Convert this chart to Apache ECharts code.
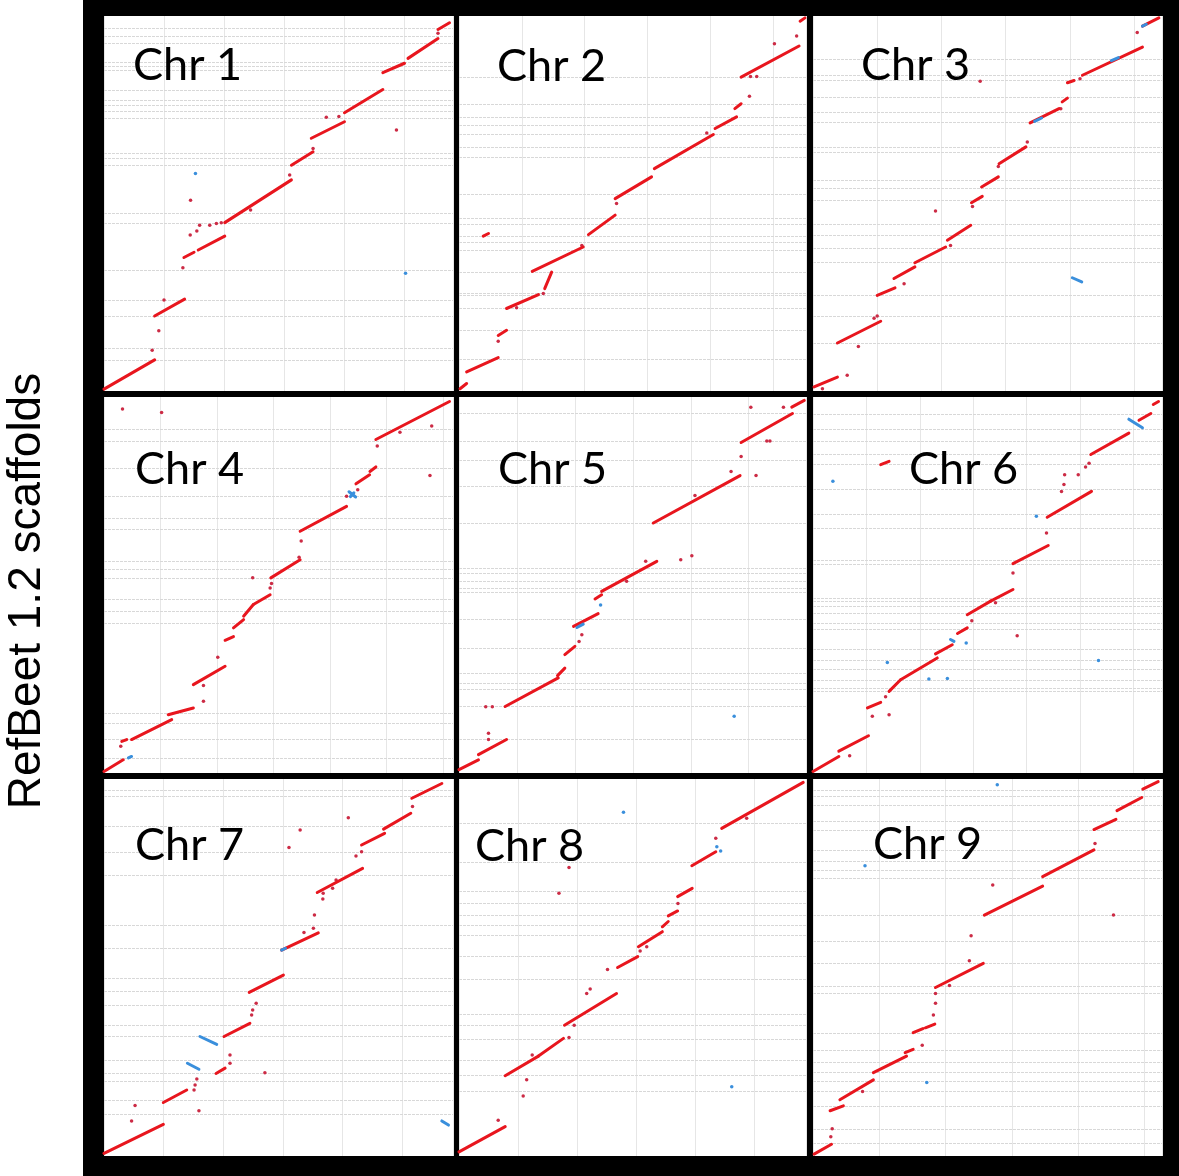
<!DOCTYPE html>
<html>
<head>
<meta charset="utf-8">
<script src="https://cdn.jsdelivr.net/npm/echarts@6/dist/echarts.min.js"></script>
<style>
html,body{margin:0;padding:0;background:#fff;}
#chart{width:1179px;height:1176px;}
</style>
</head>
<body>
<div id="chart"></div>
<script>
// Axis: x = position along chromosome (% of length), y = position in scaffold assembly (%)
const chrNames = ['Chr 1','Chr 2','Chr 3','Chr 4','Chr 5','Chr 6','Chr 7','Chr 8','Chr 9'];
const yAxisTitle = 'RefBeet 1.2 scaffolds';

// ---- Chr 1 ----
const chr1Red = [[0,0.5,14.5,8.3],[14.5,20,23.1,24.5],[22.9,35.6,25.8,37],[27,37.6,34.6,41.3],[34.6,44.9,53.7,56.3],[53.7,60.2,59.9,63.8],[59.4,67.4,68.9,71.8],[68.9,74.2,79.9,80.4],[79.9,84.9,86.1,87.4],[87.1,88.7,95.7,94],[95.7,96.4,99,98.2]];
const chr1Dots = [[17.2,24.3],[15.7,16.1],[13.8,10.9],[22.6,32.9],[24.7,41.6],[26.6,42.7],[27.4,44.2],[30.3,44.2],[32.2,44.7],[33.6,44.9],[24.8,50.9],[42,48.3],[53.2,57.6],[59.9,64.7],[63.7,73],[67.3,73.2],[83.8,69.6],[95.7,95.4]];
const chr1Blue = [];
const chr1BlueDots = [[26.2,58.0],[86.4,31.4]];
const chr1Scaffolds = [96.7,94.5,92.7,87.8,86.5,85.6,80.3,77.6,76.3,74.5,72.7,63.4,62.0,60.3,47.4,44.7,32.3,24.3,20.0,11.4,8.3];
const chr1Tick = 17.2;

// ---- Chr 2 ----
const chr2Red = [[0.3,0.6,2.2,2.0],[2.2,5.1,11.3,8.9],[11.3,14.8,13.7,16.2],[13.7,22,22.9,25.7],[24.7,27.3,26.7,31.7],[21.1,31.9,35.8,38.4],[37.3,41.7,45,46.9],[45,51.3,55.5,57.1],[56.3,59.3,73.3,68.4],[73.8,70,80,73.1],[79.5,75.3,81.3,76.6],[81.3,83.7,98,92],[98.3,98.6,99.7,99.5],[7,41.3,8.5,42]];
const chr2Dots = [[11.3,13.3],[16.6,22.2],[24.3,26],[35.4,38.8],[45.4,50],[71.4,68.8],[83.7,78.6],[84,83.9],[85.8,83.9],[90.9,92.6],[97.3,94.7]];
const chr2Blue = [];
const chr2BlueDots = [];
const chr2Scaffolds = [83.7,76.6,73.1,70.8,68.4,65.1,62.4,52.6,46,44.6,41.3,39.7,37.5,31.7,26.1,25.5,22.1,16.2,8.6];
const chr2Tick = 18.1;

// ---- Chr 3 ----
const chr3Red = [[0.3,1.1,7,3.7],[7,12.8,19.4,18.6],[18.4,25.5,23.5,27.5],[23.2,30,29.2,33.1],[29.2,34.2,38,38.4],[38.5,40.2,45.2,44.2],[45.4,50.2,48.5,51.9],[48.3,54.4,53.1,57.1],[53.3,60.6,61,65.1],[62.2,71.5,70.5,75.3],[71.4,77.1,72.9,78.1],[72.9,82.2,74.8,82.8],[77.2,84.2,94.4,91.7],[94.4,97.3,99.1,99.5]];
const chr3Dots = [[2.7,0.6],[9.8,4.2],[13,11.9],[17.5,19.4],[18.4,20],[26.1,28.6],[39.4,38.8],[35.1,48],[45.7,49.2],[53.1,59.9],[61.4,66.4],[71,75.3],[76.5,83.3],[92.9,95.6],[47.9,82.6]];
const chr3Blue = [[74.3,30.2,77,29.1],[63.5,71.9,65.5,72.8],[85.5,88.1,87.5,88.9],[94.4,97.3,95.5,97.8]];
const chr3BlueDots = [];
const chr3Scaffolds = [88.6,84.2,82.8,78.4,74.4,71.7,65.1,63.7,56.2,54,50.8,44.6,41.5,38,34.4,25.5,20,12.8];
const chr3Tick = 18.4;

// ---- Chr 4 ----
const chr4Red = [[0,0.4,5.5,3.5],[5.1,8.4,6.5,8.9],[7.9,8.9,19.4,14.2],[18.4,15.5,25.6,17.3],[25.6,23.5,34.7,28.4],[34.7,35.3,37.1,36.3],[37.1,38.6,40,40.8],[40,41.7,42.8,44.8],[42.8,44.8,47.6,47.4],[47.8,51.9,56.2,56.7],[56.2,64.3,69.5,70.9],[72.2,76.9,76.1,79.3],[76.2,80.2,77.9,81.4],[77.9,88.7,99,98.8]];
const chr4Dots = [[5.3,96.8],[16.5,95.9],[4.8,7.1],[28.5,23.3],[28.5,19.1],[32.6,30.8],[47.6,49.2],[48,50.4],[42.6,51.9],[55.9,57.4],[56.5,61.7],[69.5,73.6],[72.7,75.3],[78.3,87],[84.8,90.6],[93.9,92.3],[93.4,79.1]];
const chr4Blue = [[7,4,7.9,4.4],[70.2,74.8,72.1,73.4],[70.6,73.5,71.6,74.5]];
const chr4BlueDots = [];
const chr4Scaffolds = [91.3,88.2,81.1,73.6,67.8,64.7,56.3,54.1,51.9,46.1,43,39.9,16,13.3,8.9,4];
const chr4Tick = 16.2;

// ---- Chr 5 ----
const chr5Red = [[0,0.9,5.6,3.5],[5.6,4.9,13.7,8.9],[13.3,17.7,28.6,25.3],[28.4,25.9,30.5,27.9],[30.5,31.5,33.4,33.7],[33,39,40.1,42.4],[39.2,46.3,41.1,47.4],[41.1,48.3,57,56.3],[56,66.5,81,79.1],[81.3,87.9,96.1,95.6],[95.9,97.3,99.5,99.1]];
const chr5Dots = [[8.5,8.9],[8.5,10.6],[7.7,17.6],[9.6,17.6],[34.6,35],[35.4,36.8],[48.3,51],[53.8,56.3],[68,73.8],[78.4,80.2],[81.3,84.2],[85.6,79.1],[88.7,88.3],[89.6,88.3],[84.1,97.3],[93.5,97.3],[63.9,56.7],[67.1,57.8]];
const chr5Blue = [[34,38.7,35.8,39.6]];
const chr5BlueDots = [[40.8,44.7],[79.3,15.1]];
const chr5Scaffolds = [95.7,88.2,83.3,76.2,66.5,54.5,53.2,51,49.2,48,40.8,33.2,26.6,23.9,22.2,17.7,8.9];
const chr5Tick = 16.7;

// ---- Chr 6 ----
const chr6Red = [[0,0.4,7.4,4.4],[7.4,5.8,15.9,9.9],[15.6,17.3,19.4,18.8],[21.8,21.7,25.1,24.8],[25.1,24.8,35.6,30.6],[35.1,31.7,39.9,34.1],[41.4,37.1,44.2,38.6],[44.2,42.1,50.9,45.7],[50.9,45.7,57.3,48.8],[57.3,55.7,67.4,60.5],[67.1,68,79.8,74.9],[79.6,84.7,90.5,90.4],[93.4,93.8,96.8,95.6],[97.5,98,99,98.8],[19.4,82,21.8,82.9]];
const chr6Dots = [[10.5,4.6],[17,15.1],[21.8,15.5],[20.8,20.3],[45.5,40.5],[52.3,45.3],[57.3,53.2],[66.9,63.8],[58.5,36.5],[71.2,74.9],[71.9,76.7],[72.1,79.3],[76,79.3],[78.1,81.4],[79.1,82.4]];
const chr6Blue = [[39.4,35.5,40.4,35],[90.5,94.1,94.4,91.8]];
const chr6BlueDots = [[43.9,34.6],[64,68.3],[5.7,77.6],[21.3,29.4],[33.2,25],[38.5,25.1],[81.8,29.9]];
const chr6Scaffolds = [95.3,91.3,88.2,84.7,82,75.4,68.7,65.2,56.7,55.4,46.5,45.7,44.3,42.6,39.9,38.1,32.8,30.1,27.5,24.8,22.6,21.7];
const chr6Tick = 15.3;

// ---- Chr 7 ----
const chr7Red = [[0,0.7,17,8.4],[17,14.2,23.7,17.5],[32.1,21.9,34.7,23.3],[34.4,31.7,41.8,35.2],[41.6,43.4,51.4,48],[50.9,54.6,61.4,59.2],[61.1,69.9,74.1,76.3],[73.8,82.5,80.4,85.6],[80.1,86.7,87.9,90.9],[88.2,94.9,96.8,98.8]];
const chr7Dots = [[8.9,13.4],[7.9,9.3],[27.2,12],[25.8,17.5],[26.1,18.8],[26.6,20.4],[36.1,26.8],[36.1,24.6],[46.1,22.1],[42.3,37.4],[42.6,38.7],[43.6,40.5],[57.3,59.3],[60,60.4],[60.3,63.9],[62.7,68.2],[62.8,69.7],[65.5,71],[66.5,73.2],[72.2,79.6],[73.8,80.7],[88.4,92.7],[70,89.7],[56.2,86.5],[53,81.8]];
const chr7Blue = [[27.5,31.7,32.3,29.6],[23.9,24.6,27.2,23],[96.8,9.3,98.7,8.2],[50.9,54.6,52,55.1]];
const chr7BlueDots = [];
const chr7Scaffolds = [97.1,95.3,87.4,80.7,74.5,61.3,55.1,47.1,43.6,40.1,34.7,31.7,25.5,21.9,19.7,14.9,11.1];
const chr7Tick = 17.1;

// ---- Chr 8 ----
const chr8Red = [[0,1.1,13.3,7.8],[13.3,21.3,22.9,26.5],[22.9,26.5,30.1,31.2],[30.4,34.7,45.4,43.1],[45.7,50,51.5,52.9],[51.7,55.5,58.6,59.5],[58.6,60.8,60.3,62.2],[60.3,63.7,63,65],[63,68.8,67.2,71],[67.1,77,74,80.7],[75.7,86.9,99.2,99.1]];
const chr8Dots = [[11.3,9.5],[19.5,20.2],[18.5,15.9],[21.1,26.8],[33.2,34.7],[31.7,31.4],[36.8,43.1],[37.8,44.3],[42.8,49.5],[52.2,54.4],[54.1,55.5],[63.1,67],[74,84.3],[82.9,89.6],[31.7,76.5],[28.8,69.7]];
const chr8Blue = [];
const chr8BlueDots = [[74.3,82],[75.4,80.9],[47.4,91.2],[78.6,18.4]];
const chr8Scaffolds = [88.2,77.9,70.1,67,63.9,61.3,58.6,52.9,46.9,37.6,34.7,31,25.5,21.5,17.2];
const chr8Tick = 17;

// ---- Chr 9 ----
const chr9Red = [[0.3,0.5,5.3,3.1],[4.9,12,8.7,13.3],[7.7,14.9,17.3,20.2],[17.3,22.1,26.8,26.5],[26.4,27.4,28.7,28.3],[28.7,32.7,31.5,33.8],[32.2,34,34.9,35],[35.1,44.7,48.8,51.1],[49.1,63.9,65.8,71.6],[65.8,74.1,80.5,81.2],[80.5,86.6,86.8,89.3],[87.1,91.6,94.2,95.1],[94.5,97.3,98.9,99.3]];
const chr9Dots = [[5.1,5.1],[5.5,7.2],[14.2,17.1],[31.3,29.4],[34.5,37.4],[35.1,40.5],[35.1,43.1],[39.1,45.2],[44.8,51.8],[45.3,58.4],[51.5,71.9],[80.8,82.9],[86.1,63.9]];
const chr9Blue = [];
const chr9BlueDots = [[52.8,98.5],[14.9,77],[32.6,19.5]];
const chr9Scaffolds = [97.1,95.3,93.1,88.9,86.5,81.2,78.1,75.9,73.7,63.9,56.9,51.1,45.1,43.3,32.5,28.1,25,22.1,19.7,17.1,13.3,7.1,3.4];
const chr9Tick = 19;

const panels = [
  {red: chr1Red, dots: chr1Dots, blue: chr1Blue, blueDots: chr1BlueDots, scaffolds: chr1Scaffolds, tick: chr1Tick},
  {red: chr2Red, dots: chr2Dots, blue: chr2Blue, blueDots: chr2BlueDots, scaffolds: chr2Scaffolds, tick: chr2Tick},
  {red: chr3Red, dots: chr3Dots, blue: chr3Blue, blueDots: chr3BlueDots, scaffolds: chr3Scaffolds, tick: chr3Tick},
  {red: chr4Red, dots: chr4Dots, blue: chr4Blue, blueDots: chr4BlueDots, scaffolds: chr4Scaffolds, tick: chr4Tick},
  {red: chr5Red, dots: chr5Dots, blue: chr5Blue, blueDots: chr5BlueDots, scaffolds: chr5Scaffolds, tick: chr5Tick},
  {red: chr6Red, dots: chr6Dots, blue: chr6Blue, blueDots: chr6BlueDots, scaffolds: chr6Scaffolds, tick: chr6Tick},
  {red: chr7Red, dots: chr7Dots, blue: chr7Blue, blueDots: chr7BlueDots, scaffolds: chr7Scaffolds, tick: chr7Tick},
  {red: chr8Red, dots: chr8Dots, blue: chr8Blue, blueDots: chr8BlueDots, scaffolds: chr8Scaffolds, tick: chr8Tick},
  {red: chr9Red, dots: chr9Dots, blue: chr9Blue, blueDots: chr9BlueDots, scaffolds: chr9Scaffolds, tick: chr9Tick}
];

// layout
const cols = [[104,349],[459,347],[813,349]];
const rows = [[16,375],[397,376],[779,377]];
const titlePos = [[133,65],[497,66],[861,65],[135,469],[498,469],[909,469],[135,845],[475,846],[873,844]];

const RED = '#e8161e', BLUE = '#3a8fdc', DOT = '#cc2b45';

const grids = [], xAxes = [], yAxes = [], series = [];
panels.forEach((p, i) => {
  const c = cols[i % 3], r = rows[Math.floor(i / 3)];
  grids.push({left: c[0], top: r[0], width: c[1], height: r[1], show: true, backgroundColor: '#ffffff', borderWidth: 0, containLabel: false});
  xAxes.push({gridIndex: i, type: 'value', min: 0, max: 100, interval: p.tick,
    axisLine: {show: false}, axisTick: {show: false}, axisLabel: {show: false},
    splitLine: {show: true, lineStyle: {color: '#e6e6e6', width: 1}}});
  yAxes.push({gridIndex: i, type: 'value', min: 0, max: 100,
    axisLine: {show: false}, axisTick: {show: false}, axisLabel: {show: false}, splitLine: {show: false}});
  const seg = s => ({coords: [[s[0], s[1]], [s[2], s[3]]]});
  series.push({type: 'lines', coordinateSystem: 'cartesian2d', xAxisIndex: i, yAxisIndex: i, z: 1, silent: true,
    lineStyle: {color: '#d8d8d8', width: 1, type: [3, 1], opacity: 1},
    data: p.scaffolds.map(v => ({coords: [[0, v], [100, v]]}))});
  series.push({type: 'lines', coordinateSystem: 'cartesian2d', xAxisIndex: i, yAxisIndex: i, z: 3, silent: true,
    lineStyle: {color: RED, width: 3, opacity: 1, cap: 'round'}, data: p.red.map(seg)});
  series.push({type: 'lines', coordinateSystem: 'cartesian2d', xAxisIndex: i, yAxisIndex: i, z: 4, silent: true,
    lineStyle: {color: BLUE, width: 3, opacity: 1, cap: 'round'}, data: p.blue.map(seg)});
  series.push({type: 'scatter', xAxisIndex: i, yAxisIndex: i, z: 2, silent: true, symbolSize: 3.5,
    itemStyle: {color: DOT, opacity: 1}, data: p.dots});
  series.push({type: 'scatter', xAxisIndex: i, yAxisIndex: i, z: 4, silent: true, symbolSize: 3.5,
    itemStyle: {color: BLUE, opacity: 1}, data: p.blueDots});
});

const graphics = [
  {type: 'rect', shape: {x: 0, y: 0, width: 83, height: 1176}, style: {fill: '#ffffff'}, silent: true},
  {type: 'text', x: 27, y: 591, rotation: Math.PI / 2,
    style: {text: yAxisTitle, fontSize: 46, fontFamily: '"Liberation Sans", Arial, sans-serif', fill: '#000',
      align: 'center', verticalAlign: 'middle', textAlign: 'center', textVerticalAlign: 'middle'}}
];
chrNames.forEach((n, i) => {
  graphics.push({type: 'text', x: titlePos[i][0], y: titlePos[i][1], z: 10,
    style: {text: n, fontSize: 45, fontFamily: 'Lato, "Open Sans", sans-serif', fill: '#000',
      align: 'left', verticalAlign: 'middle', textAlign: 'left', textVerticalAlign: 'middle'}});
});

const chart = echarts.init(document.getElementById('chart'), null, {renderer: 'canvas'});
chart.setOption({
  animation: false,
  backgroundColor: '#000000',
  grid: grids,
  xAxis: xAxes,
  yAxis: yAxes,
  series: series,
  graphic: graphics
});
</script>
</body>
</html>
